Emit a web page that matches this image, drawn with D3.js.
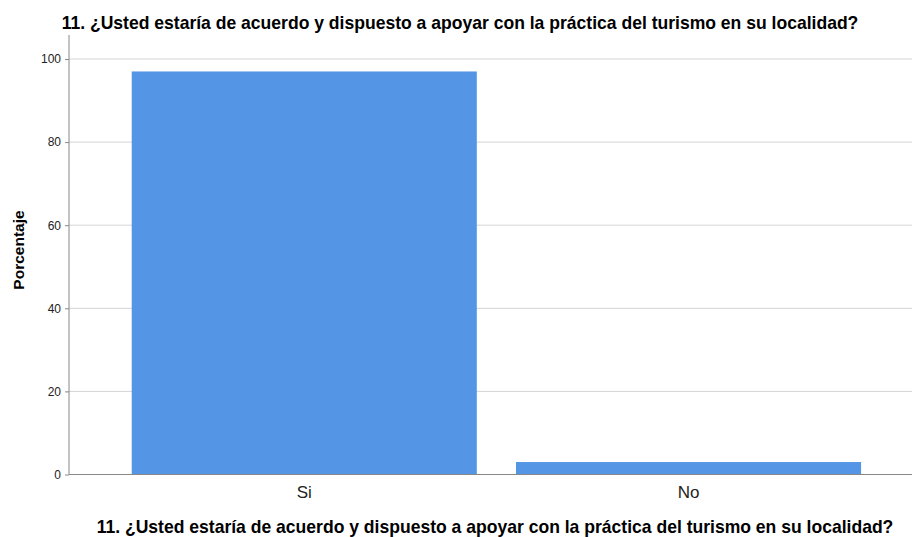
<!DOCTYPE html>
<html><head><meta charset="utf-8">
<script src="https://cdn.jsdelivr.net/npm/d3@7"></script>
<style>body{margin:0;background:#fff}svg{display:block}</style>
</head><body>
<script>
const categories = ["Si", "No"];
const values = [97.0, 3.0];
const yTicks = [0, 20, 40, 60, 80, 100];
const title = "11. ¿Usted estaría de acuerdo y dispuesto a apoyar con la práctica del turismo en su localidad?";
const yLabel = "Porcentaje";

const W = 912, H = 537;
const svg = d3.select("body").append("svg").attr("width", W).attr("height", H);
const font = "Arial, 'Liberation Sans', sans-serif";

const plotL = 69, plotR = 912, plotT = 35, plotB = 474.5;
const y = d3.scaleLinear().domain([0, 100]).range([plotB, 59]);
const x = d3.scaleBand().domain(categories).range([112.5, 880.3]).paddingInner(0.102).paddingOuter(0.05);

// grid
svg.append("g").selectAll("line").data(yTicks.filter(d => d > 0)).join("line")
  .attr("x1", plotL).attr("x2", plotR).attr("y1", d => y(d)).attr("y2", d => y(d))
  .attr("stroke", "#d4d4d4").attr("stroke-width", 1);

// bars
svg.append("g").selectAll("rect").data(categories).join("rect")
  .attr("x", d => x(d)).attr("width", x.bandwidth())
  .attr("y", (d, i) => y(values[i])).attr("height", (d, i) => plotB - y(values[i]))
  .attr("fill", "#5595e5");

// y axis
const yAxis = d3.axisLeft(y).tickValues(yTicks).tickSize(4).tickPadding(4);
const gy = svg.append("g").attr("transform", `translate(${plotL},0)`).call(yAxis);
gy.select(".domain").attr("d", `M0,${plotT}V${plotB}`).attr("stroke", "#888");
gy.selectAll(".tick line").attr("stroke", "#888");
gy.selectAll("text").attr("font-family", font).attr("font-size", 12).attr("fill", "#222");

// x axis
const xAxis = d3.axisBottom(x).tickSize(0).tickPadding(11);
const gx = svg.append("g").attr("transform", `translate(0,${plotB})`).call(xAxis);
gx.select(".domain").attr("d", `M${plotL},0H${plotR}`).attr("stroke", "#888");
gx.selectAll("text").attr("font-family", font).attr("font-size", 17).attr("fill", "#222");

// titles
function fitTitle(sel, target) {
  const w = sel.node().getComputedTextLength();
  sel.attr("font-size", 16 * target / w);
}
const t1 = svg.append("text").attr("x", 460).attr("y", 28.5).attr("text-anchor", "middle")
  .attr("font-family", font).attr("font-weight", "bold").attr("font-size", 16).attr("fill", "#000")
  .text(title);
fitTitle(t1, 797);
const t2 = svg.append("text").attr("x", 495).attr("y", 532.5).attr("text-anchor", "middle")
  .attr("font-family", font).attr("font-weight", "bold").attr("font-size", 16).attr("fill", "#000")
  .text(title);
fitTitle(t2, 797);
svg.append("text").attr("transform", "translate(24,250) rotate(-90)").attr("text-anchor", "middle")
  .attr("font-family", font).attr("font-weight", "bold").attr("font-size", 15.5).attr("fill", "#000")
  .text(yLabel);
</script>
</body></html>
